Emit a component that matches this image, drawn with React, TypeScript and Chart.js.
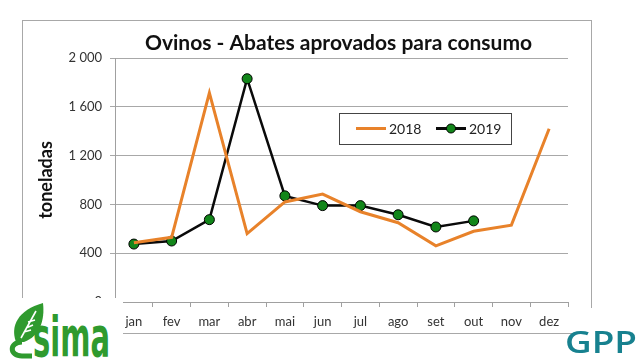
import React, { useEffect, useRef } from "react";
import { Chart, registerables } from "chart.js";

Chart.register(...registerables);

const months = ["jan", "fev", "mar", "abr", "mai", "jun", "jul", "ago", "set", "out", "nov", "dez"];
const series2018 = [485, 530, 1715, 560, 820, 885, 740, 650, 460, 580, 630, 1420];
const series2019 = [475, 500, 675, 1830, 870, 790, 790, 715, 615, 665, null, null];
const seriesLabels = ["2018", "2019"];
const yMin = 0;
const yMax = 2000;
const yStep = 400;
const titleText = "Ovinos - Abates aprovados para consumo";
const yTitle = "toneladas";

const ORANGE = "#E8822A";
const BLACK = "#0a0a0a";
const GREEN = "#12861a";
const FONT = "Lato, 'Open Sans', sans-serif";

const fmt = (v: number) => String(v).replace(/\B(?=(\d{3})+(?!\d))/g, " ");

const frame = {
  id: "frame",
  beforeDraw(chart: any) {
    const ctx = chart.ctx;
    ctx.save();
    ctx.fillStyle = "#fff";
    ctx.fillRect(0, 0, chart.width, chart.height);
    ctx.strokeStyle = "#a8a8a8";
    ctx.lineWidth = 1;
    ctx.strokeRect(22.5, 20.5, 569, 313);
    ctx.restore();
  },
};

const areaTitle = {
  id: "areaTitle",
  afterDraw(chart: any) {
    const ctx = chart.ctx;
    const a = chart.chartArea;
    ctx.save();
    ctx.font = `bold 21px ${FONT}`;
    ctx.fillStyle = "#111";
    ctx.textAlign = "center";
    ctx.textBaseline = "alphabetic";
    ctx.fillText(titleText, (a.left + a.right) / 2 - 3, a.top - 8);
    ctx.restore();
  },
};

const boxLegend = {
  id: "boxLegend",
  afterDraw(chart: any) {
    const ctx = chart.ctx;
    const x0 = 339, y0 = 113, w = 172, h = 31;
    const cy = y0 + h / 2;
    ctx.save();
    ctx.fillStyle = "#fff";
    ctx.fillRect(x0, y0, w, h);
    ctx.strokeStyle = "#444";
    ctx.lineWidth = 1;
    ctx.strokeRect(x0 + 0.5, y0 + 0.5, w, h);
    ctx.font = `14px ${FONT}`;
    ctx.textBaseline = "middle";
    ctx.fillStyle = "#222";
    const ds = chart.data.datasets;
    ctx.strokeStyle = ds[0].borderColor;
    ctx.lineWidth = 3;
    ctx.beginPath();
    ctx.moveTo(356, cy);
    ctx.lineTo(386, cy);
    ctx.stroke();
    ctx.fillText(ds[0].label, 389, cy + 1);
    ctx.strokeStyle = ds[1].borderColor;
    ctx.lineWidth = 3;
    ctx.beginPath();
    ctx.moveTo(436, cy);
    ctx.lineTo(466, cy);
    ctx.stroke();
    ctx.beginPath();
    ctx.arc(451, cy, 4.5, 0, Math.PI * 2);
    ctx.fillStyle = ds[1].pointBackgroundColor;
    ctx.fill();
    ctx.lineWidth = 1;
    ctx.strokeStyle = "#000";
    ctx.stroke();
    ctx.fillStyle = "#222";
    ctx.fillText(ds[1].label, 469, cy + 1);
    ctx.restore();
  },
};

function ChartView() {
  const ref = useRef<HTMLCanvasElement | null>(null);
  useEffect(() => {
    if (!ref.current) return;
    const chart = new Chart(ref.current, {
      type: "line",
      data: {
        labels: months,
        datasets: [
          {
            label: seriesLabels[0],
            data: series2018,
            borderColor: ORANGE,
            backgroundColor: ORANGE,
            borderWidth: 3,
            pointRadius: 0,
            tension: 0,
          },
          {
            label: seriesLabels[1],
            data: series2019,
            borderColor: BLACK,
            backgroundColor: GREEN,
            pointBackgroundColor: GREEN,
            pointBorderColor: "#000",
            pointBorderWidth: 1,
            pointRadius: 5,
            borderWidth: 2.5,
            tension: 0,
          },
        ],
      },
      options: {
        responsive: false,
        animation: false,
        layout: { padding: { left: 0, right: 72, top: 58, bottom: 0 } },
        plugins: {
          legend: { display: false },
          tooltip: { enabled: false },
          title: { display: false },
        },
        scales: {
          x: {
            type: "category",
            offset: true,
            grid: {
              offset: true,
              drawOnChartArea: false,
              drawTicks: true,
              tickLength: 5,
              color: "#a0a0a0",
            },
            border: { color: "#a0a0a0", width: 1 },
            ticks: {
              color: "#333",
              font: { family: FONT, size: 13 },
              padding: 7,
              maxRotation: 0,
              autoSkip: false,
            },
            afterFit: (s: any) => {
              s.height = 58;
            },
          },
          y: {
            min: yMin,
            max: yMax,
            ticks: {
              stepSize: yStep,
              color: "#333",
              font: { family: FONT, size: 13 },
              padding: 8,
              callback: (v: any) => fmt(Number(v)),
            },
            grid: { color: "#a8a8a8", tickLength: 5, lineWidth: 1 },
            border: { color: "#a0a0a0", width: 1 },
            title: {
              display: true,
              text: yTitle,
              color: "#111",
              font: { family: FONT, size: 18, weight: "bold", lineHeight: 1.2 },
              padding: { top: 35, bottom: 0 },
            },
            afterFit: (s: any) => {
              s.width = 115;
            },
          },
        },
      },
      plugins: [frame, areaTitle, boxLegend],
    });
    return () => chart.destroy();
  }, []);
  return <canvas ref={ref} width={640} height={360} style={{ position: "absolute", left: 0, top: 0 }} />;
}

function SimaLogo() {
  return (
    <svg width={123} height={62} style={{ position: "absolute", left: 0, top: 0 }}>
      <rect x={0} y={0} width={123} height={62} fill="#fff" />
      <path d="M16 44 C10 28 18 12 43 5 C45 22 40 38 24 44 Z" fill="#2f9a2e" />
      <path d="M21 40 L36 13 M26 30 L33 27 M28 24 L35 22 M24 34 L31 32" stroke="#fff" strokeWidth={1.6} fill="none" />
      <path d="M22 44 C9 44 9 58 22 58 L32 58" stroke="#2f9a2e" strokeWidth={5} fill="none" />
      <g transform="translate(33,58) scale(1,1.75)">
        <text
          x={0}
          y={0}
          fontFamily="'DejaVu Sans', sans-serif"
          fontWeight={900}
          fontSize={32}
          fill="#2f9a2e"
          textLength={77}
          lengthAdjust="spacingAndGlyphs"
        >
          sima
        </text>
      </g>
    </svg>
  );
}

function GppLogo() {
  return (
    <svg width={67} height={52} style={{ position: "absolute", left: 0, top: 0, overflow: "visible" }}>
      <rect x={0} y={0} width={67} height={52} fill="#fff" />
      <text
        x={-8}
        y={45}
        fontFamily="'Open Sans', sans-serif"
        fontWeight={600}
        fontSize={30}
        fill="#17818f"
        textLength={72}
        lengthAdjust="spacingAndGlyphs"
      >
        GPP
      </text>
    </svg>
  );
}

export default function App() {
  return (
    <div style={{ position: "fixed", left: 0, top: 0, width: 640, height: 360, background: "#fff", overflow: "hidden" }}>
      <ChartView />
      <div style={{ position: "absolute", left: 0, top: 298, width: 123, height: 62 }}>
        <SimaLogo />
      </div>
      <div style={{ position: "absolute", left: 573, top: 308, width: 67, height: 52 }}>
        <GppLogo />
      </div>
    </div>
  );
}
